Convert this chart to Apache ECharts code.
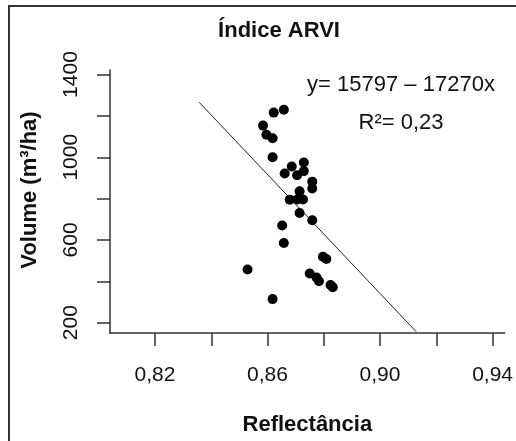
<!DOCTYPE html>
<html>
<head>
<meta charset="utf-8">
<script src="https://cdn.jsdelivr.net/npm/echarts@6/dist/echarts.min.js"></script>
<style>
html,body{margin:0;padding:0;background:#fff;}
#c{width:516px;height:441px;}
</style>
</head>
<body>
<div id="c"></div>
<script>
// Data
const reflectance = [0.8658,0.8622,0.8584,0.8596,0.8618,0.8618,0.8729,0.8686,0.8661,0.8705,
  0.8729,0.8759,0.8759,0.8714,0.8679,0.8706,0.8726,0.8714,0.8759,0.8652,
  0.8658,0.8529,0.8797,0.8809,0.8750,0.8774,0.8783,0.8824,0.8832,0.8618];
const volume = [1230,1216,1153,1109,1092,1000,975,955,921,913,
  933,882,849,835,795,796,796,730,695,670,
  585,457,519,508,438,418,400,382,371,314];
const fitX = [0.8357, 0.9128];
const fitY = [1266, 157];
const xTicks = [0.82,0.84,0.86,0.88,0.90,0.92,0.94];
const xTickLabels = [0.82,0.86,0.90,0.94];
const yTicks = [200,400,600,800,1000,1200,1400];
const yTickLabels = [200,600,1000,1400];
const titleText = 'Índice ARVI';
const xName = 'Reflectância';
const yName = 'Volume (m³/ha)';
const eqText = 'y= 15797 – 17270x';
const r2Text = 'R²= 0,23';

const FONT = '"Liberation Sans", Arial, sans-serif';
const chart = echarts.init(document.getElementById('c'), null, {renderer:'canvas'});
chart.setOption({
  animation:false,
  backgroundColor:'#fff',
  grid:{left:110, top:70, right:11, bottom:99, containLabel:false},
  xAxis:{
    type:'value', min:0.804, max:0.9443,
    name:xName, nameLocation:'middle', nameGap:81,
    nameTextStyle:{fontFamily:FONT, fontSize:22, fontWeight:'bold', color:'#111'},
    axisLine:{show:true, onZero:false, lineStyle:{color:'#333', width:1.5}},
    axisTick:{show:true, length:13, customValues:xTicks, lineStyle:{color:'#333', width:1.5}},
    axisLabel:{customValues:xTickLabels, margin:32, fontFamily:FONT, fontSize:21, color:'#111',
      formatter:v=>v.toFixed(2).replace('.',',')},
    splitLine:{show:false}
  },
  yAxis:{
    type:'value', min:150, max:1422,
    axisLine:{show:true, onZero:false, lineStyle:{color:'#333', width:1.5}},
    axisTick:{show:true, length:13, customValues:yTicks, lineStyle:{color:'#333', width:1.5}},
    axisLabel:{customValues:yTickLabels, rotate:90, margin:28, fontFamily:FONT, fontSize:21, color:'#111',
      formatter:v=>String(Math.round(v))},
    splitLine:{show:false}
  },
  series:[
    {type:'line', data:fitX.map((x,i)=>[x,fitY[i]]), showSymbol:false, symbol:'none',
      lineStyle:{color:'#222', width:1}, z:1, silent:true},
    {type:'scatter', data:reflectance.map((x,i)=>[x,volume[i]]), symbol:'circle', symbolSize:10,
      itemStyle:{color:'#000', opacity:1}, z:2}
  ],
  graphic:[
    {type:'rect', shape:{x:9, y:6, width:700, height:700}, style:{fill:null, stroke:'#333', lineWidth:2}, silent:true},
    {type:'text', x:279, y:31, style:{text:titleText, font:'bold 22px '+FONT, fill:'#111', textAlign:'center', textVerticalAlign:'middle'}},
    {type:'text', x:30, y:190, rotation:Math.PI/2, style:{text:yName, font:'bold 22px '+FONT, fill:'#111', textAlign:'center', textVerticalAlign:'middle'}},
    {type:'text', x:401, y:85, style:{text:eqText, font:'22px '+FONT, fill:'#111', textAlign:'center', textVerticalAlign:'middle'}},
    {type:'text', x:401, y:123, style:{text:r2Text, font:'22px '+FONT, fill:'#111', textAlign:'center', textVerticalAlign:'middle'}}
  ]
});
</script>
</body>
</html>
